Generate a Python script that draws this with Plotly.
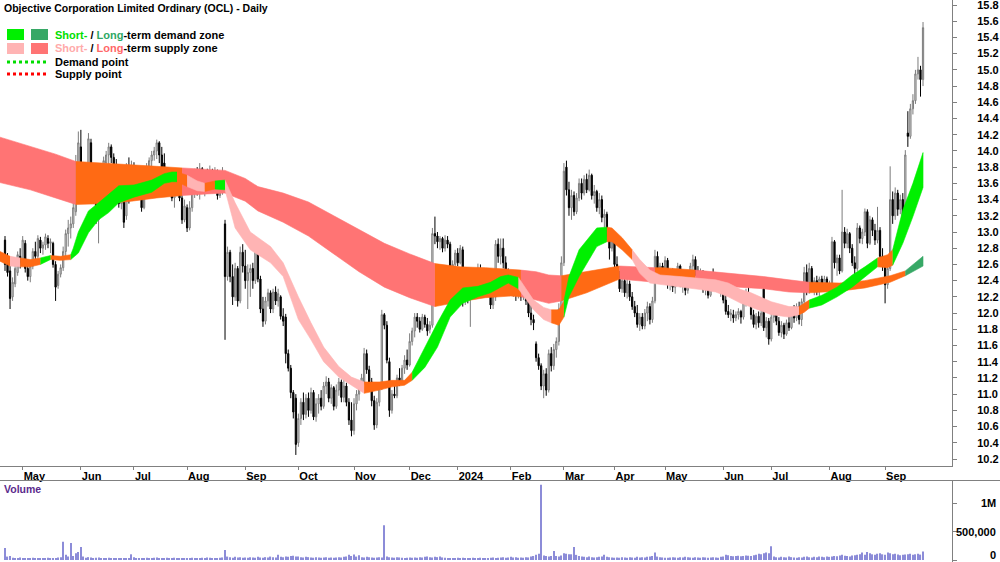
import pandas as pd
import plotly.graph_objects as go

# ---------------- data ----------------
start_date = "2023-04-19"
end_date = "2024-09-20"
asx_holidays = ["2023-04-25", "2023-06-12", "2023-12-25", "2023-12-26", "2024-01-01",
                "2024-01-26", "2024-03-29", "2024-04-01", "2024-04-25", "2024-06-10"]

opens = [
    12.90,12.66,12.52,12.20,12.36,12.50,12.70,12.62,12.86,12.55,
    12.45,12.58,12.76,12.70,12.90,12.80,12.84,12.92,12.86,12.86,
    12.60,12.34,12.48,12.56,12.76,12.98,13.05,13.10,13.25,13.85,
    14.05,13.70,13.80,13.58,14.10,13.60,13.45,13.15,13.38,13.70,
    13.85,13.95,14.05,13.92,13.78,13.52,13.35,13.40,13.20,13.80,
    13.45,13.82,13.66,13.72,13.60,13.30,13.66,13.80,13.88,13.95,
    14.00,14.10,13.95,13.85,13.62,13.58,13.50,13.42,13.46,13.62,
    13.42,13.15,13.30,13.05,13.30,13.50,13.72,13.55,13.78,13.52,
    13.64,13.56,13.75,13.52,13.74,13.45,13.62,13.10,12.45,12.75,
    12.45,12.20,12.55,12.15,12.75,12.58,12.40,12.50,12.55,12.40,
    12.88,12.42,12.05,11.90,12.15,12.25,12.05,12.26,12.15,12.20,
    11.96,11.95,11.50,11.32,11.02,10.95,10.40,10.70,10.90,10.75,
    10.95,10.80,11.02,10.72,10.88,10.95,10.85,11.10,11.15,10.95,
    11.08,10.85,11.05,11.15,10.96,11.10,10.90,10.68,10.55,10.88,
    11.00,11.10,11.15,11.50,11.30,11.15,10.92,10.62,10.90,11.10,
    11.98,11.85,11.40,10.80,11.00,10.98,11.20,11.15,11.32,11.42,
    11.36,11.65,11.78,11.95,11.90,11.80,11.95,11.86,11.80,11.85,
    12.98,12.95,12.88,12.92,12.80,12.90,12.85,12.48,12.60,12.74,
    12.62,12.78,12.15,12.28,12.18,12.45,12.30,12.48,12.55,12.45,
    12.35,12.30,12.25,12.10,12.20,12.85,12.70,12.80,12.62,12.48,
    12.42,12.35,12.40,12.22,12.30,12.20,12.32,12.15,12.00,11.92,
    11.62,11.45,11.35,11.10,11.25,11.05,11.50,11.35,11.55,11.65,
    12.05,12.62,13.80,13.52,13.30,13.45,13.25,13.42,13.60,13.48,
    13.65,13.52,13.70,13.45,13.50,13.30,13.40,13.18,13.22,12.95,
    12.80,12.92,12.60,12.48,12.30,12.40,12.25,12.36,12.20,12.08,
    12.00,11.86,11.95,11.84,12.00,12.08,11.92,12.15,12.70,12.52,
    12.58,12.42,12.65,12.35,12.48,12.32,12.45,12.58,12.38,12.44,
    12.28,12.40,12.58,12.66,12.52,12.40,12.50,12.30,12.38,12.22,
    12.44,12.40,12.46,12.30,12.36,12.16,12.02,11.98,11.98,11.94,
    11.98,12.02,11.95,12.12,12.25,12.18,11.98,11.86,11.96,11.88,
    12.30,11.82,11.90,11.68,11.95,12.02,11.90,11.76,11.85,11.74,
    11.88,11.82,12.00,11.94,12.08,11.92,12.14,12.50,12.28,12.55,
    12.32,12.40,12.28,12.42,12.32,12.42,12.34,12.36,12.88,12.62,
    12.68,12.52,13.00,12.86,12.98,12.80,12.62,12.55,13.05,12.92,
    13.00,13.25,12.86,13.15,13.02,12.90,13.02,12.70,12.58,12.35,
    12.55,13.40,13.20,13.48,13.28,13.40,13.18,14.22,14.18,14.52,
    14.62,14.95,15.00,14.88]

highs = [
    12.95,12.74,12.58,12.44,12.60,12.76,12.80,12.95,12.90,12.66,
    12.62,12.80,12.88,12.96,12.94,12.88,12.98,12.96,12.92,12.88,
    12.64,12.52,12.60,12.82,13.03,13.15,13.19,13.40,13.95,14.24,
    14.26,13.85,13.82,14.22,14.15,13.75,13.56,13.45,13.77,13.93,
    14.00,14.10,14.08,13.97,13.90,13.62,13.45,13.42,13.85,13.92,
    13.88,13.86,13.80,13.78,13.64,13.72,13.85,13.92,14.00,14.05,
    14.14,14.12,14.05,13.97,13.80,13.75,13.60,13.52,13.68,13.64,
    13.56,13.40,13.34,13.38,13.56,13.78,13.80,13.85,13.80,13.70,
    13.78,13.82,13.78,13.80,13.77,13.72,13.80,13.15,12.82,12.78,
    12.60,12.62,12.58,12.82,12.85,12.78,12.60,12.60,12.62,12.94,
    12.90,12.46,12.20,12.20,12.30,12.28,12.30,12.33,12.30,12.22,
    12.06,11.99,11.55,11.36,11.05,11.00,10.76,10.95,11.02,11.00,
    11.02,11.08,11.05,10.95,11.00,11.05,11.15,11.22,11.20,11.12,
    11.10,11.12,11.20,11.18,11.18,11.14,10.95,10.90,10.95,11.05,
    11.15,11.25,11.57,11.55,11.35,11.20,10.98,10.95,11.15,12.04,
    12.00,11.90,11.45,11.05,11.10,11.24,11.32,11.36,11.48,11.55,
    11.75,11.82,12.00,12.00,11.95,11.99,11.98,11.94,11.90,13.05,
    13.19,13.00,12.95,12.94,12.96,12.95,12.88,12.65,12.78,12.80,
    12.84,12.82,12.35,12.32,12.52,12.50,12.52,12.61,12.60,12.52,
    12.42,12.36,12.40,12.30,12.90,12.92,12.92,12.92,12.70,12.55,
    12.50,12.45,12.44,12.38,12.37,12.36,12.35,12.20,12.10,11.98,
    11.65,11.50,11.38,11.30,11.32,11.55,11.58,11.62,11.70,12.12,
    12.70,13.85,13.88,13.62,13.52,13.50,13.48,13.66,13.66,13.70,
    13.72,13.77,13.72,13.58,13.52,13.48,13.45,13.28,13.25,13.05,
    12.98,12.96,12.70,12.52,12.45,12.44,12.42,12.40,12.26,12.15,
    12.10,12.00,12.00,12.05,12.14,12.12,12.20,12.78,12.76,12.62,
    12.62,12.70,12.68,12.52,12.55,12.50,12.62,12.60,12.50,12.47,
    12.46,12.62,12.72,12.70,12.58,12.55,12.53,12.42,12.40,12.48,
    12.55,12.50,12.49,12.40,12.38,12.22,12.10,12.05,12.04,12.02,
    12.06,12.04,12.16,12.30,12.36,12.24,12.04,12.00,12.02,12.04,
    12.33,11.95,11.94,12.00,12.08,12.05,11.95,11.90,11.88,11.92,
    11.96,12.05,12.10,12.12,12.14,12.18,12.57,12.60,12.62,12.58,
    12.44,12.46,12.45,12.46,12.46,12.45,12.40,12.94,12.90,12.72,
    12.72,13.52,13.06,13.04,13.00,12.85,12.70,13.11,13.08,13.04,
    13.29,13.28,13.20,13.18,13.10,13.31,13.06,12.80,12.60,12.62,
    13.81,13.50,13.55,13.52,13.46,13.48,14.01,14.49,14.58,14.70,
    15.00,15.16,15.05,15.59]

lows = [
    12.52,12.45,12.05,12.15,12.32,12.46,12.55,12.60,12.50,12.40,
    12.38,12.54,12.62,12.66,12.74,12.72,12.78,12.80,12.74,12.56,
    12.15,12.30,12.44,12.52,12.70,12.82,12.92,13.05,13.20,13.62,
    13.65,13.55,13.52,13.52,13.45,13.35,13.10,12.86,13.35,13.55,
    13.65,13.72,13.85,13.75,13.48,13.30,13.28,13.05,13.15,13.35,
    13.42,13.62,13.60,13.55,13.25,13.28,13.60,13.74,13.80,13.88,
    13.90,13.85,13.72,13.58,13.48,13.45,13.38,13.30,13.44,13.38,
    13.10,13.12,13.00,13.02,13.25,13.42,13.45,13.40,13.48,13.44,
    13.50,13.52,13.48,13.50,13.40,13.42,13.46,11.67,12.40,12.38,
    12.10,12.15,12.08,12.12,12.50,12.30,12.05,12.20,12.30,12.36,
    12.38,12.00,11.83,11.86,12.08,12.00,12.00,12.10,12.08,11.92,
    11.84,11.38,11.28,10.95,10.70,10.25,10.35,10.62,10.68,10.70,
    10.72,10.76,10.68,10.66,10.76,10.80,10.82,11.00,10.90,10.88,
    10.80,10.82,10.98,10.90,10.90,10.85,10.62,10.48,10.50,10.80,
    10.92,11.05,11.12,11.25,11.10,10.85,10.56,10.58,10.85,11.05,
    11.80,11.38,10.72,10.76,10.95,10.95,11.10,11.12,11.25,11.30,
    11.34,11.60,11.70,11.82,11.76,11.78,11.82,11.72,11.75,11.82,
    12.85,12.80,12.78,12.75,12.76,12.80,12.42,12.44,12.56,12.58,
    12.60,12.08,12.10,12.12,11.83,12.20,12.26,12.40,12.40,12.30,
    12.24,12.20,12.05,12.05,12.15,12.62,12.60,12.55,12.40,12.36,
    12.28,12.20,12.15,12.18,12.15,12.16,12.10,11.95,11.85,11.79,
    11.40,11.30,11.05,10.95,10.98,11.02,11.28,11.30,11.45,11.60,
    12.00,12.58,13.45,13.20,13.15,13.20,13.22,13.38,13.40,13.45,
    13.48,13.50,13.40,13.35,13.25,13.22,13.12,13.05,12.90,12.66,
    12.76,12.55,12.42,12.26,12.25,12.20,12.18,12.15,12.04,11.95,
    11.82,11.78,11.80,11.80,11.90,11.86,11.88,12.12,12.45,12.40,
    12.36,12.38,12.30,12.28,12.26,12.24,12.40,12.32,12.25,12.22,
    12.24,12.36,12.50,12.46,12.34,12.36,12.25,12.22,12.18,12.20,
    12.35,12.28,12.26,12.20,12.12,11.98,11.94,11.90,11.88,11.90,
    11.92,11.87,11.92,12.08,12.14,11.92,11.82,11.80,11.82,11.84,
    11.78,11.70,11.61,11.65,11.88,11.85,11.72,11.70,11.68,11.72,
    11.78,11.80,11.88,11.90,11.86,11.84,12.10,12.22,12.24,12.28,
    12.22,12.22,12.20,12.26,12.28,12.28,12.22,12.32,12.55,12.46,
    12.48,12.50,12.80,12.80,12.74,12.58,12.48,12.52,12.86,12.85,
    12.95,12.80,12.84,12.95,12.84,12.86,12.65,12.52,12.12,12.30,
    12.52,13.10,13.15,13.20,13.22,13.12,13.15,14.05,14.15,14.45,
    14.58,14.88,14.67,14.80]

closes = [
    12.60,12.50,12.18,12.38,12.55,12.72,12.62,12.90,12.55,12.45,
    12.58,12.76,12.70,12.92,12.80,12.84,12.94,12.86,12.88,12.60,
    12.32,12.48,12.56,12.76,12.98,13.05,13.10,13.30,13.85,14.10,
    13.70,13.80,13.58,14.15,13.60,13.45,13.15,13.38,13.70,13.88,
    13.95,14.05,13.92,13.78,13.52,13.35,13.40,13.12,13.80,13.42,
    13.82,13.66,13.75,13.60,13.30,13.66,13.80,13.88,13.95,14.00,
    14.10,13.95,13.80,13.62,13.55,13.50,13.42,13.46,13.62,13.42,
    13.15,13.32,13.05,13.30,13.50,13.72,13.55,13.78,13.52,13.64,
    13.56,13.75,13.52,13.74,13.45,13.66,13.72,12.45,12.75,12.45,
    12.20,12.55,12.15,12.75,12.58,12.40,12.50,12.55,12.40,12.88,
    12.42,12.05,11.90,12.15,12.25,12.05,12.26,12.15,12.24,11.96,
    11.90,11.50,11.32,11.02,10.78,10.38,10.70,10.90,10.75,10.95,
    10.80,11.02,10.72,10.88,10.95,10.85,11.10,11.15,10.95,11.08,
    10.85,11.05,11.15,10.96,11.10,10.90,10.68,10.55,10.88,11.00,
    11.10,11.20,11.50,11.30,11.15,10.92,10.62,10.90,11.10,11.98,
    11.85,11.42,10.80,11.00,10.98,11.20,11.15,11.32,11.42,11.36,
    11.65,11.78,11.95,11.90,11.80,11.95,11.86,11.78,11.85,12.98,
    12.95,12.88,12.92,12.80,12.90,12.85,12.48,12.60,12.74,12.62,
    12.80,12.15,12.28,12.18,12.45,12.30,12.48,12.55,12.45,12.35,
    12.30,12.25,12.10,12.20,12.85,12.70,12.80,12.62,12.48,12.42,
    12.35,12.40,12.22,12.30,12.20,12.32,12.15,12.00,11.92,11.88,
    11.45,11.35,11.10,11.25,11.05,11.50,11.35,11.55,11.65,12.05,
    12.62,13.75,13.52,13.30,13.45,13.25,13.42,13.60,13.48,13.65,
    13.52,13.70,13.45,13.50,13.30,13.40,13.18,13.22,12.95,12.80,
    12.92,12.60,12.48,12.30,12.40,12.25,12.36,12.20,12.08,12.00,
    11.86,11.95,11.84,12.00,12.08,11.92,12.15,12.70,12.52,12.58,
    12.42,12.65,12.35,12.48,12.32,12.45,12.58,12.38,12.44,12.28,
    12.40,12.58,12.66,12.52,12.40,12.50,12.30,12.38,12.22,12.44,
    12.40,12.46,12.30,12.36,12.16,12.02,11.98,12.00,11.94,11.98,
    12.02,11.95,12.12,12.25,12.18,11.98,11.86,11.96,11.88,12.00,
    11.82,11.90,11.68,11.95,12.02,11.90,11.76,11.85,11.74,11.88,
    11.82,12.00,11.94,12.08,11.92,12.14,12.50,12.28,12.55,12.32,
    12.40,12.28,12.42,12.32,12.42,12.34,12.36,12.88,12.62,12.68,
    12.52,13.00,12.86,12.98,12.80,12.62,12.55,13.05,12.92,13.00,
    13.25,12.86,13.15,13.02,12.90,13.02,12.70,12.58,12.35,12.55,
    13.40,13.20,13.48,13.28,13.40,13.18,13.95,14.18,14.52,14.62,
    14.95,15.00,14.88,15.52]

# daily volume, thousands of shares, by month
vol_apr23 = [210,60,70,40,35,30,45]
vol_may23 = [30,35,25,30,40,35,30,25,30,35,40,30,35,30,45,50,320,90,60,300,70,120,140]
vol_jun23 = [230,60,40,50,45,35,40,45,30,35,30,40,35,30,30,35,30,25,30,35,100]
vol_jul23 = [50,35,30,35,30,40,35,30,40,45,35,30,35,40,30,35,40,30,35,30,35]
vol_aug23 = [30,35,40,30,35,30,40,35,45,40,35,30,35,40,45,175,60,50,40,55,45,50,40]
vol_sep23 = [45,40,50,45,40,55,45,40,50,45,60,50,45,90,55,50,60,55,70,75,60]
vol_oct23 = [60,50,45,55,50,45,40,50,45,40,45,50,40,45,40,45,50,45,55,60,90,70]
vol_nov23 = [95,60,85,50,45,55,50,45,40,45,50,45,610,60,50,45,40,50,45,40,35,40,45]
vol_dec23 = [40,45,40,50,45,55,60,50,45,55,50,60,45,40,35,30,35,30,40]
vol_jan24 = [35,40,35,30,35,40,35,30,40,35,30,35,40,45,35,40,45,50,40,45,55]
vol_feb24 = [45,50,40,45,40,50,45,60,70,90,110,1320,80,70,60,70,160,70,60,80,120]
vol_mar24 = [110,100,100,230,90,70,60,55,50,60,50,45,50,55,60,90,55,50,45,40]
vol_apr24 = [45,40,50,45,40,50,45,40,55,45,50,45,55,60,70,130,60,50,45,40]
vol_may24 = [40,45,50,45,40,50,45,55,50,45,40,50,45,40,50,45,40,45,50,45,40,55,60]
vol_jun24 = [90,85,70,65,70,75,65,70,80,75,70,85,90,110,100,120,130,120,240]
vol_jul24 = [60,50,45,55,50,45,60,50,45,40,50,45,55,60,50,45,55,50,60,55,50,60,55]
vol_aug24 = [60,70,65,80,90,75,70,60,80,85,90,100,130,90,140,120,100,90,110,120,100,90]
vol_sep24 = [130,120,100,110,95,85,90,95,100,110,90,100,110,95,150]

# long-term zone (edges at sampled trading-day index) and its state changes
lt_days = [-2,10,20,28,40,50,60,70,80,87,95,100,110,120,130,140,150,160,170,180,
           190,200,204,210,215,220,230,243,250,257,260,273,280,290,300,310,318,330,340,350,356,363]
lt_top = [14.17,14.06,13.96,13.87,13.85,13.83,13.81,13.79,13.77,13.76,13.66,13.56,13.48,13.37,13.20,
          13.03,12.86,12.73,12.61,12.57,12.56,12.54,12.53,12.51,12.47,12.46,12.51,12.58,12.57,12.56,
          12.56,12.53,12.51,12.48,12.45,12.41,12.38,12.37,12.40,12.46,12.52,12.70]
lt_bot = [13.61,13.52,13.42,13.34,13.35,13.38,13.42,13.45,13.47,13.48,13.38,13.26,13.12,12.95,12.73,
          12.51,12.32,12.19,12.08,12.14,12.19,12.21,12.20,12.16,12.12,12.15,12.25,12.42,12.40,12.38,
          12.37,12.35,12.33,12.32,12.30,12.26,12.25,12.27,12.31,12.38,12.46,12.58]
lt_states = [(-2,"LS"),(28,"OR"),(70,"LS"),(170,"OR"),(204,"LS"),(220,"OR"),(243,"LS"),
             (257,"OR"),(273,"LS"),(318,"OR"),(356,"LD")]

# short-term zone
st_days = [-2,2,6,10,14,18,22,26,27,29,33,37,41,45,51,58,63,66,68,72,76,79,83,87,91,97,105,110,116,121,
           126,132,137,142,148,153,158,161,166,171,176,181,187,192,196,199,203,209,213,216,219,221,223,227,
           231,234,238,240,244,248,251,255,259,267,275,281,286,291,295,303,310,314,316,318,323,329,335,340,
           345,349,351,355,359,363]
st_top = [12.76,12.70,12.68,12.66,12.68,12.71,12.70,12.72,12.80,13.00,13.26,13.36,13.46,13.57,13.58,
          13.64,13.72,13.74,13.74,13.70,13.63,13.60,13.63,13.64,13.36,13.00,12.82,12.62,12.20,11.88,
          11.58,11.34,11.21,11.15,11.15,11.17,11.17,11.27,11.58,11.88,12.16,12.31,12.33,12.38,12.45,
          12.47,12.44,12.16,12.07,12.04,12.04,12.15,12.45,12.78,12.94,13.05,13.06,13.05,12.93,12.78,
          12.66,12.53,12.47,12.45,12.43,12.41,12.37,12.29,12.25,12.14,12.08,12.08,12.12,12.16,12.22,
          12.32,12.47,12.57,12.68,12.72,12.78,13.27,13.60,13.98]
st_bot = [12.64,12.58,12.57,12.57,12.60,12.66,12.65,12.66,12.68,12.74,12.99,13.15,13.24,13.36,13.43,
          13.49,13.60,13.62,13.62,13.56,13.51,13.50,13.53,13.52,13.05,12.78,12.62,12.45,11.92,11.67,
          11.40,11.21,11.11,11.01,11.05,11.09,11.11,11.17,11.33,11.58,11.95,12.12,12.20,12.25,12.32,
          12.37,12.30,12.04,11.92,11.88,11.85,11.95,12.20,12.45,12.66,12.82,12.88,12.88,12.78,12.66,
          12.49,12.37,12.35,12.32,12.29,12.26,12.20,12.12,12.08,11.98,11.95,11.98,12.01,12.06,12.10,
          12.20,12.32,12.45,12.57,12.56,12.59,12.86,13.19,13.55]
st_states = [(-2,"OR"),(2,"SS"),(6,"OR"),(14,"SD"),(18,"OR"),(26,"SD"),(68,"OR"),(72,"SS"),(79,"OR"),
             (83,"SD"),(87,"SS"),(142,"OR"),(161,"SD"),(203,"SS"),(216,"OR"),(221,"SD"),(238,"OR"),
             (248,"SS"),(314,"OR"),(318,"SD"),(345,"OR"),(351,"SD")]

price_ticks_from, price_ticks_to = 10.2, 15.8
vol_tickvals = [0, 500000, 1000000]
vol_ticktext = ["0", "500,000", "1M"]

# ---------------- styling ----------------
FONT = "Liberation Sans, Arial, Helvetica, sans-serif"
COL = {"SD": "#00F000", "LD": "#37A866", "SS": "#FFB4B4", "LS": "#FF7474", "OR": "#FF6A14"}
W, H = 952, 562  # plot area width (right margin holds the axis labels), full height


def px(x):
    return x / W


def py(y):
    return 1 - y / H


n = min(len(opens), len(highs), len(lows), len(closes))
trade_days = pd.bdate_range(start_date, end_date)
trade_days = trade_days[~trade_days.isin(pd.to_datetime(asx_holidays))]
dates = list(trade_days[:n])
xi = list(range(n))

volumes = [v * 1000 for v in (vol_apr23 + vol_may23 + vol_jun23 + vol_jul23 + vol_aug23 + vol_sep23 +
                              vol_oct23 + vol_nov23 + vol_dec23 + vol_jan24 + vol_feb24 + vol_mar24 +
                              vol_apr24 + vol_may24 + vol_jun24 + vol_jul24 + vol_aug24 + vol_sep24)][:n]

month_pos, month_txt = [], []
for i in range(1, len(dates)):
    if dates[i].month != dates[i - 1].month:
        month_pos.append(i)
        month_txt.append(str(dates[i].year) if dates[i].month == 1 else dates[i].strftime("%b"))

fig = go.Figure()


def add_band(days_, top_, bot_, states_):
    for k, (start, st) in enumerate(states_):
        end = states_[k + 1][0] if k + 1 < len(states_) else days_[-1]
        idx = [j for j, d in enumerate(days_) if start <= d <= end]
        xs = [days_[j] for j in idx] + [days_[j] for j in reversed(idx)]
        ys = [top_[j] for j in idx] + [bot_[j] for j in reversed(idx)]
        c = COL[st]
        fig.add_trace(go.Scatter(x=xs, y=ys, mode="lines", fill="toself", fillcolor=c,
                                 line=dict(color=c, width=0.6), hoverinfo="skip",
                                 showlegend=False, xaxis="x", yaxis="y"))


add_band(lt_days, lt_top, lt_bot, lt_states)
add_band(st_days, st_top, st_bot, st_states)

fig.add_trace(go.Candlestick(
    x=xi, open=opens[:n], high=highs[:n], low=lows[:n], close=closes[:n],
    increasing=dict(line=dict(color="#7c7c7c", width=1), fillcolor="#e6e6e6"),
    decreasing=dict(line=dict(color="#000000", width=1), fillcolor="#000000"),
    whiskerwidth=0, showlegend=False, xaxis="x", yaxis="y"))

fig.add_trace(go.Bar(x=xi[:len(volumes)], y=volumes, width=0.45,
                     marker=dict(color="#8c8cd8", line=dict(width=0)),
                     showlegend=False, xaxis="x2", yaxis="y2"))

x_range = [-5 / 2.529, (W - 5) / 2.529]
price_top = 15.8 + 5 / 81.07
price_bot = 10.2 - 7 / 81.07

fig.update_layout(
    width=1000, height=562,
    margin=dict(l=0, r=1000 - W, t=0, b=0),
    paper_bgcolor="white", plot_bgcolor="white", showlegend=False,
    font=dict(family=FONT, size=11, color="black"),
    xaxis=dict(domain=[0, 1], range=x_range, anchor="y", tickmode="array",
               tickvals=month_pos, ticktext=month_txt, ticks="outside", ticklen=3,
               tickcolor="#808080", showline=True, linecolor="#808080", linewidth=1,
               showgrid=False, zeroline=False, ticklabelposition="outside right",
               tickfont=dict(family=FONT, size=11, color="black", weight="bold"),
               rangeslider=dict(visible=False), fixedrange=True),
    yaxis=dict(domain=[1 - 466 / H, 1], range=[price_bot, price_top], anchor="x", side="right",
               tickmode="linear", tick0=price_ticks_from, dtick=0.2, tickformat=".1f",
               ticks="outside", ticklen=4, ticklabeloverflow="allow",
               tickcolor="#808080", showline=True, linecolor="#808080", showgrid=False,
               zeroline=False, ticklabelstandoff=18,
               tickfont=dict(family=FONT, size=11, color="black", weight="bold")),
    xaxis2=dict(domain=[0, 1], range=x_range, anchor="y2", showticklabels=False, ticks="",
                showline=False, showgrid=False, zeroline=False),
    yaxis2=dict(domain=[0, 81 / H], range=[-2 / 57 * 1e6, 79 / 57 * 1e6], anchor="x2", side="right",
                tickvals=vol_tickvals, showticklabels=False, ticks="outside", ticklen=4,
                tickcolor="#808080", showline=True, linecolor="#808080", showgrid=False,
                zeroline=False),
)

shapes = [
    dict(type="line", xref="paper", yref="paper", x0=0, x1=px(1000), y0=py(480.5), y1=py(480.5),
         line=dict(color="#808080", width=1)),
    dict(type="rect", xref="paper", yref="paper", x0=px(7), x1=px(24), y0=py(40), y1=py(29),
         fillcolor=COL["SD"], line=dict(width=0)),
    dict(type="rect", xref="paper", yref="paper", x0=px(31), x1=px(48), y0=py(40), y1=py(29),
         fillcolor=COL["LD"], line=dict(width=0)),
    dict(type="rect", xref="paper", yref="paper", x0=px(7), x1=px(24), y0=py(54), y1=py(43),
         fillcolor=COL["SS"], line=dict(width=0)),
    dict(type="rect", xref="paper", yref="paper", x0=px(31), x1=px(48), y0=py(54), y1=py(43),
         fillcolor=COL["LS"], line=dict(width=0)),
    dict(type="line", xref="paper", yref="paper", x0=px(7), x1=px(46), y0=py(62), y1=py(62),
         line=dict(color="#00DD00", width=3, dash="dot")),
    dict(type="line", xref="paper", yref="paper", x0=px(7), x1=px(46), y0=py(74), y1=py(74),
         line=dict(color="#FF0000", width=3, dash="dot")),
]
fig.update_layout(shapes=shapes)


def label(x, y, text, anchor="left", color="black", size=11):
    fig.add_annotation(xref="paper", yref="paper", x=px(x), y=py(y), text=text, showarrow=False,
                       xanchor=anchor, yanchor="middle",
                       font=dict(family=FONT, size=size, color=color))


label(2, 8, "<b>Objective Corporation Limited Ordinary (OCL) - Daily</b>", size=10.5)
label(53, 35, "<b><span style='color:#00E000'>Short-</span> / "
              "<span style='color:#2FA865'>Long</span>-term demand zone</b>")
label(53, 48, "<b><span style='color:#FFAAAA'>Short-</span> / "
              "<span style='color:#FF6868'>Long</span>-term supply zone</b>")
label(53, 62, "<b>Demand point</b>")
label(53, 74, "<b>Supply point</b>")
label(2, 489, "<b>Volume</b>", color="#5B2A8C", size=10.5)
for v, t in zip(vol_tickvals, vol_ticktext):
    yy = 560 - v / 1e6 * 57
    label(998, min(yy, 555), "<b>" + t + "</b>", anchor="right")

fig.write_html("out.html")
